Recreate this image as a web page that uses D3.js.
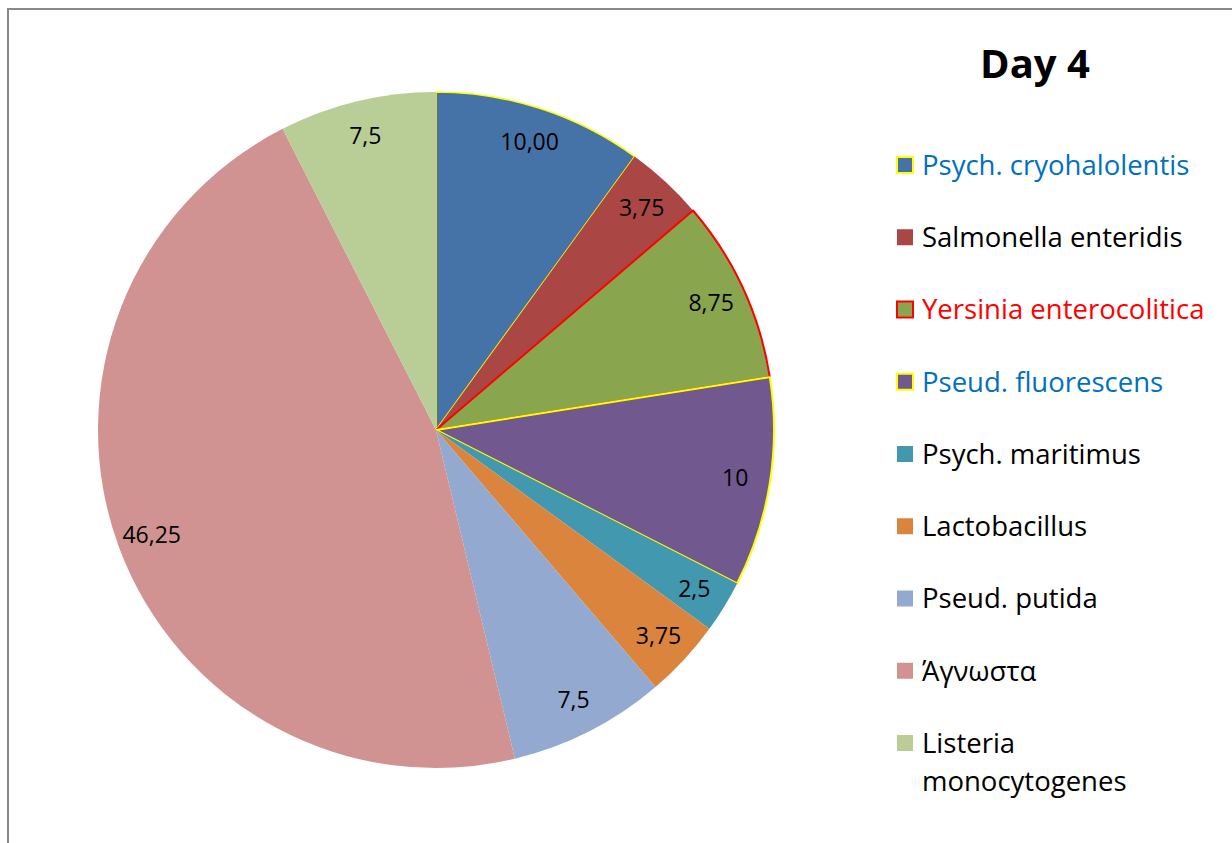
<!DOCTYPE html>
<html>
<head>
<meta charset="utf-8">
<script src="https://cdn.jsdelivr.net/npm/d3@7"></script>
<style>
  body { margin: 0; background: #fff; }
  svg { display: block; font-family: "Open Sans", Lato, sans-serif; }
</style>
</head>
<body>
<div id="chart"></div>
<script>
// data
var categories = ["Psych. cryohalolentis", "Salmonella enteridis", "Yersinia enterocolitica",
    "Pseud. fluorescens", "Psych. maritimus", "Lactobacillus", "Pseud. putida",
    "Άγνωστα", "Listeria monocytogenes"];
var values = [10, 3.75, 8.75, 10, 2.5, 3.75, 7.5, 46.25, 7.5];
var valueLabels = ["10,00", "3,75", "8,75", "10", "2,5", "3,75", "7,5", "46,25", "7,5"];
var sliceColors = ["#4572A7", "#AA4643", "#89A54E", "#71588F", "#4198AF",
    "#DB843D", "#93A9CF", "#D19392", "#B9CD96"];
var outlineColors = ["#FFFF00", null, "#FF0000", "#FFFF00", null, null, null, null, null];
var legendTextColors = ["#0070C0", "#000", "#FF0000", "#0070C0", "#000", "#000", "#000", "#000", "#000"];
var title = "Day 4";

var width = 1232, height = 843;
var cx = 436, cy = 430, radius = 338;

var svg = d3.select("#chart").append("svg")
    .attr("width", width)
    .attr("height", height);

// chart area border (only left and top show)
svg.append("path")
    .attr("d", "M8," + height + "V9H" + width)
    .attr("fill", "none")
    .attr("stroke", "#898989")
    .attr("stroke-width", 2);

var pie = d3.pie().sort(null).value(d => d);
var arcs = pie(values);
var arc = d3.arc().innerRadius(0).outerRadius(radius);
var labelArc = d3.arc().innerRadius(303).outerRadius(303);

var g = svg.append("g").attr("transform", "translate(" + cx + "," + cy + ")");

g.selectAll("path.slice")
    .data(arcs)
    .join("path")
    .attr("class", "slice")
    .attr("d", arc)
    .attr("fill", (d, i) => sliceColors[i])
    .attr("stroke", (d, i) => outlineColors[i] || "none")
    .attr("stroke-width", (d, i) => i === 0 ? 1.5 : 2)
    .attr("stroke-linejoin", "round");

g.selectAll("text.val")
    .data(arcs)
    .join("text")
    .attr("class", "val")
    .attr("x", d => labelArc.centroid(d)[0])
    .attr("y", d => labelArc.centroid(d)[1])
    .attr("dy", "0.36em")
    .attr("text-anchor", "middle")
    .attr("font-size", 23)
    .attr("fill", "#000")
    .text((d, i) => valueLabels[i]);

// title
svg.append("text")
    .attr("x", 1035)
    .attr("y", 78)
    .attr("text-anchor", "middle")
    .attr("font-size", 40)
    .attr("font-weight", "bold")
    .text(title);

// legend
var legendY = d3.scaleLinear().domain([0, categories.length - 1]).range([165, 743]);
var legend = svg.append("g");
var items = legend.selectAll("g")
    .data(categories)
    .join("g")
    .attr("transform", (d, i) => "translate(896," + legendY(i) + ")");

items.append("rect")
    .attr("x", 1)
    .attr("y", -8)
    .attr("width", 16)
    .attr("height", 16)
    .attr("fill", (d, i) => sliceColors[i])
    .attr("stroke", (d, i) => outlineColors[i] || "none")
    .attr("stroke-width", 2);

items.append("text")
    .attr("x", 26)
    .attr("font-size", 27.5)
    .attr("fill", (d, i) => legendTextColors[i])
    .each(function (d) {
        var t = d3.select(this);
        var lines = d === "Listeria monocytogenes" ? ["Listeria", "monocytogenes"] : [d];
        lines.forEach(function (line, k) {
            t.append("tspan")
                .attr("x", 26)
                .attr("dy", k === 0 ? "0.36em" : 38)
                .text(line);
        });
    });
</script>
</body>
</html>
